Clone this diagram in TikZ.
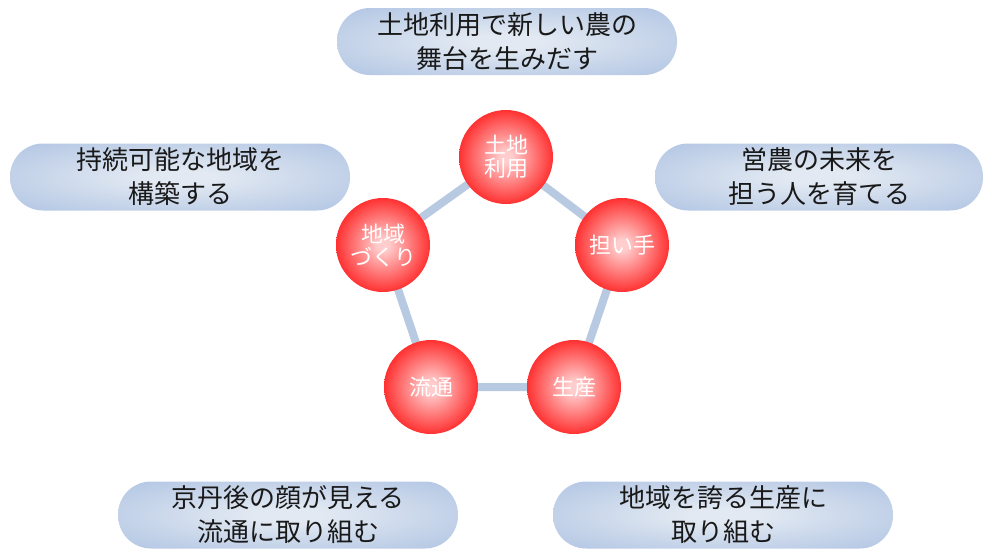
\documentclass[tikz,border=0pt]{standalone}
\usepackage{fontspec}
\setmainfont{Noto Sans CJK JP}
\definecolor{pillc}{RGB}{226,233,242}
\definecolor{pille}{RGB}{176,196,227}
\definecolor{ballc}{RGB}{255,205,205}
\definecolor{linkc}{RGB}{184,201,226}
\pgfdeclareradialshading{pillshade}{\pgfpoint{0bp}{0bp}}{color(0bp)=(pillc); color(5bp)=(pillc); color(36bp)=(pille); color(50bp)=(pille)}
\pgfdeclareradialshading{ballshade}{\pgfpoint{0bp}{0bp}}{color(0bp)=(ballc); color(3bp)=(ballc); color(32bp)=(red); color(50bp)=(red)}
\tikzset{
  pill/.style={rectangle, rounded corners=33pt, minimum height=67pt, inner sep=0pt,
    shading=pillshade, align=center, text=black!90, font=\fontsize{26pt}{34pt}\selectfont},
  ball/.style={circle, minimum size=94pt, inner sep=0pt, shading=ballshade,
    align=center, text=white, font=\fontsize{22pt}{23pt}\selectfont},
  link/.style={draw=linkc, line width=8pt}
}
\begin{document}
\begin{tikzpicture}[x=1pt,y=-1pt]
\useasboundingbox (0,0) rectangle (985,549);
% pills
\node[pill, minimum width=340pt] (p1) at (507,41.5) {土地利用で新しい農の\\舞台を生みだす};
\node[pill, minimum width=340pt] (p2) at (180,177) {持続可能な地域を\\構築する};
\node[pill, minimum width=328pt] (p3) at (819,177) {営農の未来を\\担う人を育てる};
\node[pill, minimum width=340pt] (p4) at (288,515) {京丹後の顔が見える\\流通に取り組む};
\node[pill, minimum width=340pt] (p5) at (723,515) {地域を誇る生産に\\取り組む};
% coordinates of balls
\coordinate (c1) at (506,157);
\coordinate (c2) at (622,245);
\coordinate (c3) at (574,387);
\coordinate (c4) at (431,387);
\coordinate (c5) at (383,245);
\draw[link] (c1) -- (c2) -- (c3) -- (c4) -- (c5) -- cycle;
\node[ball] (b1) at (c1) {土地\\利用};
\node[ball] (b2) at (c2) {担い手};
\node[ball] (b3) at (c3) {生産};
\node[ball] (b4) at (c4) {流通};
\node[ball] (b5) at (c5) {地域\\づくり};
\end{tikzpicture}
\end{document}
